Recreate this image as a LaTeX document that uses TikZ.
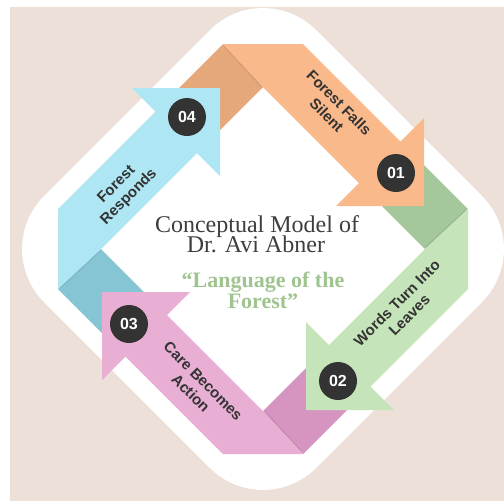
\documentclass[tikz,border=0pt]{standalone}
\usepackage{fontspec}
\newfontfamily\lsans{Liberation Sans}
\newfontfamily\lserif{Liberation Serif}
\definecolor{bgbeige}{HTML}{ECE0D8}
\definecolor{orL}{HTML}{F9B98B}
\definecolor{orD}{HTML}{E6A77A}
\definecolor{grL}{HTML}{C6E4B9}
\definecolor{grD}{HTML}{A4C79B}
\definecolor{pkL}{HTML}{E8AED4}
\definecolor{pkD}{HTML}{D694C0}
\definecolor{blL}{HTML}{AEE6F4}
\definecolor{blD}{HTML}{86C6D4}
\definecolor{numdark}{HTML}{333333}
\definecolor{titlegrey}{HTML}{3E3E3E}
\definecolor{titlegreen}{HTML}{A0C48F}
\begin{document}
\begin{tikzpicture}[x=1pt,y=1pt,
  numcirc/.style={circle, fill=numdark, minimum size=38pt, inner sep=0pt, text=white, font=\lsans\bfseries\fontsize{16}{16}\selectfont},
  steplabel/.style={align=center, text=numdark, font=\lsans\bfseries\fontsize{15}{17.5}\selectfont, inner sep=0pt},
  titletext/.style={anchor=base, text=titlegrey, font=\lserif\fontsize{24}{24}\selectfont, inner sep=0pt},
  greentext/.style={anchor=base, text=titlegreen, font=\lserif\bfseries\fontsize{22}{22}\selectfont, inner sep=0pt}
  ]
\useasboundingbox (0,0) rectangle (504,-501);
\fill[bgbeige] (10,-7) rectangle (504,-501);
\begin{scope}[shift={(263,-249)}]
  \fill[white, rounded corners=75pt] (0,272) -- (272,0) -- (0,-272) -- (-272,0) -- cycle;
  % dark (folded) parts
  \foreach \ang/\col in {0/orD,-90/grD,-180/pkD,90/blD} {
    \fill[\col, rotate=\ang] (-40,205) -- (0,162) -- (-51,111) -- (-92.5,152.5) -- cycle;
    \draw[rotate=\ang, black, opacity=0.07, line width=3pt] (-38,203) -- (-1,163);
  }
  % light arrows
  \foreach \ang/\col in {0/orL,-90/grL,-180/pkL,90/blL} {
    \fill[\col, rotate=\ang] (-40,205) -- (40,205) -- (137.5,107.5) -- (161,131) -- (161,43) -- (73,43) -- (96,66) -- (0,162) -- cycle;
  }
  \node[numcirc] (n01) at (133,76) {01};
  \node[numcirc] (n02) at (75,-132) {02};
  \node[numcirc] (n03) at (-134,-75) {03};
  \node[numcirc] (n04) at (-76,132) {04};
  \node[steplabel, rotate=-45] (l01) at (70,140) {Forest Falls\\Silent};
  \node[steplabel, rotate=45] (l02) at (140,-60) {Words Turn Into\\Leaves};
  \node[steplabel, rotate=-45] (l03) at (-66,-138) {Care Becomes\\Action};
  \node[steplabel, rotate=45] (l04) at (-140,58) {Forest\\Responds};
  \node[titletext] (t1) at (-6,17) {Conceptual Model of};
  \node[titletext] (t2) at (-7,-3) {Dr. Avi Abner};
  \node[greentext] (t3) at (0,-38) {“Language of the};
  \node[greentext] (t4) at (0,-59) {Forest”};
\end{scope}
\end{tikzpicture}
\end{document}
